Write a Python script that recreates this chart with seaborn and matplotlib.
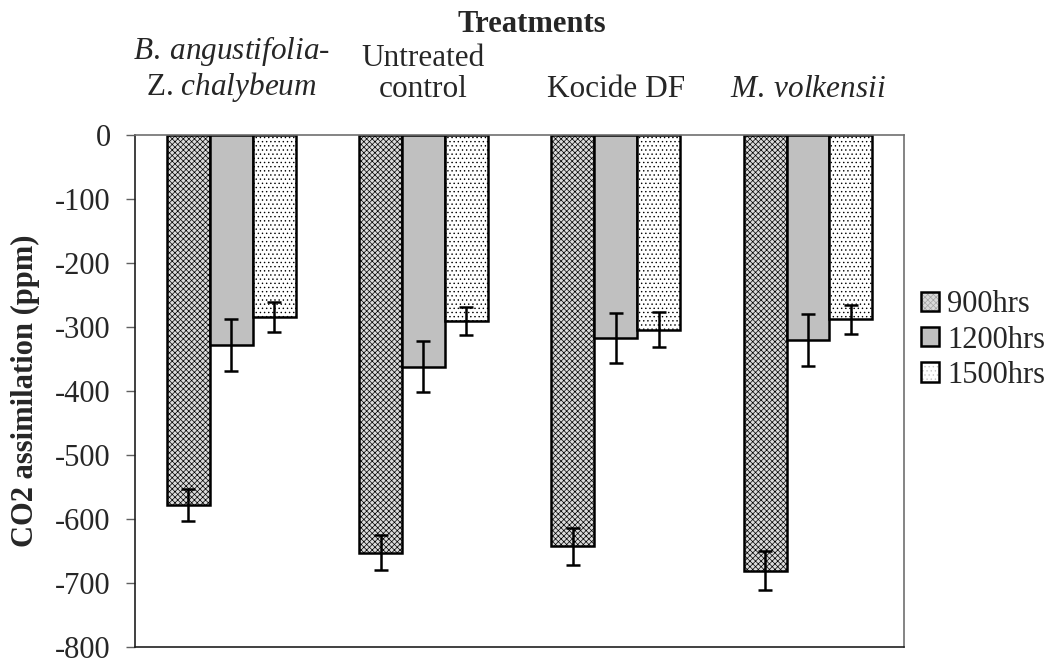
import matplotlib
matplotlib.use("Agg")
import matplotlib.pyplot as plt
from matplotlib.patches import Patch
import numpy as np
import pandas as pd
import seaborn as sns

# Photosynthesis data: mean CO2 assimilation per treatment and time of day
treatments = [
    r"$\it{B.\:angustifolia}$-" + "\n" + r"Z. $\it{chalybeum}$",
    "Untreated\ncontrol",
    "Kocide DF",
    r"$\it{M.\:volkensii}$",
]
times = ["900hrs", "1200hrs", "1500hrs"]
co2_900 = [-577, -652, -642, -680]
co2_1200 = [-328, -362, -317, -320]
co2_1500 = [-284, -290, -304, -288]
err_900 = [25, 27, 29, 30]
err_1200 = [40, 40, 39, 40]
err_1500 = [23, 22, 27, 22]
y_ticks = [0, -100, -200, -300, -400, -500, -600, -700, -800]

values = {"900hrs": co2_900, "1200hrs": co2_1200, "1500hrs": co2_1500}
errors = {"900hrs": err_900, "1200hrs": err_1200, "1500hrs": err_1500}
df = pd.DataFrame(
    [(t, h, values[h][i]) for h in times for i, t in enumerate(treatments)],
    columns=["Treatment", "Time", "CO2"],
)

sns.set_theme(style="white")
plt.rcParams["font.family"] = ["Liberation Serif", "DejaVu Serif"]
plt.rcParams["mathtext.fontset"] = "custom"
plt.rcParams["mathtext.rm"] = "Liberation Serif"
plt.rcParams["mathtext.it"] = "Liberation Serif:italic"
plt.rcParams["hatch.linewidth"] = 0.5

fig = plt.figure(figsize=(10.55, 6.64), dpi=100)
ax = fig.add_axes([0.128, 0.025, 0.729, 0.7717])

sns.barplot(data=df, x="Treatment", y="CO2", hue="Time", order=treatments,
            hue_order=times, errorbar=None, width=0.67, ax=ax,
            palette=["#d0d0d0", "#c0c0c0", "#ffffff"],
            edgecolor="black", linewidth=1.8, saturation=1, legend=False)

# Fill styles for each time of day
styles = {
    "900hrs": dict(facecolor="#dadada", hatch="xxxxxx", hatchcolor="#a4a4a4"),
    "1200hrs": dict(facecolor="#c0c0c0", hatch=None, hatchcolor=None),
    "1500hrs": dict(facecolor="#ffffff", hatch="....", hatchcolor="#c4c4c4"),
}

for cont, h in zip(ax.containers, times):
    st = styles[h]
    xs, ys = [], []
    for bar in cont:
        bar.set_facecolor(st["facecolor"])
        if st["hatch"]:
            bar.set_hatch(st["hatch"])
            bar._hatch_color = matplotlib.colors.to_rgba(st["hatchcolor"])
        bar.set_edgecolor("black")
        xs.append(bar.get_x() + bar.get_width() / 2)
        ys.append(bar.get_height())
    ax.errorbar(xs, ys, yerr=errors[h], fmt="none", ecolor="black",
                elinewidth=1.8, capsize=4.7, capthick=1.8, zorder=5)

ax.set_ylim(-800, 0)
ax.set_yticks(y_ticks)
ax.set_yticklabels([str(v) for v in y_ticks], fontsize=22)
ax.set_xlim(-0.5, 3.5)
ax.xaxis.tick_top()
ax.set_xticks(range(len(treatments)))
ax.set_xticklabels(treatments, fontsize=22.5, va="bottom", linespacing=1.1)
ax.tick_params(axis="x", length=0, pad=22)
ax.tick_params(axis="y", length=6.5, width=1, color="#606060", left=True,
               direction="out", pad=11)
ax.set_xlabel("")
ax.set_ylabel("CO2 assimilation (ppm)", fontsize=22, fontweight="bold",
              labelpad=11)

for side in ["left", "bottom"]:
    ax.spines[side].set_color("#202020")
    ax.spines[side].set_linewidth(1.2)
for side in ["top", "right"]:
    ax.spines[side].set_color("#707070")
    ax.spines[side].set_linewidth(1.2)

fig.text(532 / 1055, 1 - 25 / 664, "Treatments", ha="center", va="center",
         fontsize=22, fontweight="bold")

handles = []
for h in times:
    st = styles[h]
    p = Patch(facecolor=st["facecolor"], edgecolor="black", linewidth=1.8,
              hatch=st["hatch"], label=h)
    if st["hatch"]:
        p._hatch_color = matplotlib.colors.to_rgba(st["hatchcolor"])
    handles.append(p)
fig.legend(handles=handles, loc="center left",
           bbox_to_anchor=(921 / 1055, 1 - 340 / 664), frameon=False,
           fontsize=22, handlelength=0.6, handleheight=0.6,
           handletextpad=0.25, labelspacing=0.2, borderaxespad=0,
           borderpad=0)

fig.savefig("out.png", dpi=100)
